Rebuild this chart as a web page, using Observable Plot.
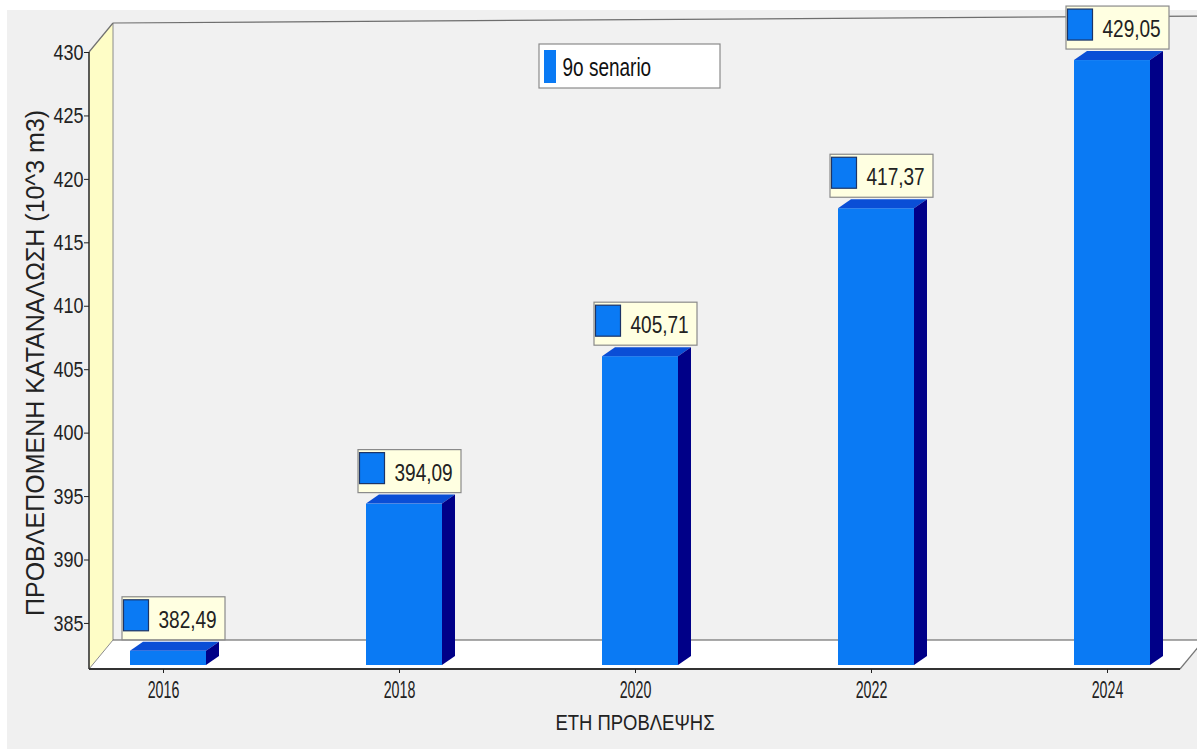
<!DOCTYPE html>
<html>
<head>
<meta charset="utf-8">
<script src="https://cdn.jsdelivr.net/npm/d3@7"></script>
<script src="https://cdn.jsdelivr.net/npm/@observablehq/plot@0.6"></script>
<style>
  body { margin: 0; background: #ffffff; }
  #chart { width: 1197px; height: 749px; }
</style>
</head>
<body>
<div id="chart"></div>
<script>
// ---- data ----
const years = ["2016", "2018", "2020", "2022", "2024"];
const values = [382.49, 394.09, 405.71, 417.37, 429.05];
const yTicks = [385, 390, 395, 400, 405, 410, 415, 420, 425, 430];
const yDomain = [381.37, 430];
const seriesName = "9o senario";
const yTitle = "ΠΡΟΒΛΕΠΟΜΕΝΗ ΚΑΤΑΝΑΛΩΣΗ (10^3 m3)";
const xTitle = "ΕΤΗ ΠΡΟΒΛΕΨΗΣ";

const data = years.map((year, i) => ({year, value: values[i]}));
const fmt = v => v.toFixed(2).replace(".", ",");

const SANS = '"Liberation Sans", Arial, sans-serif';
const FRONT = "#0a7af4", TOP = "#0a4ed6", SIDE = "#000088";
const BAR_DX = 5, BAR_DY = -4;      // bar sits in the middle of the depth
const DEPTH_X = 13, DEPTH_Y = -9;   // bar 3D depth
const WALL_X = 24, WALL_Y = -29;    // chart 3D depth

const svg = Plot.plot({
  width: 1197,
  height: 749,
  marginLeft: 89,
  marginRight: 17,
  marginTop: 52,
  marginBottom: 80,
  style: {background: "transparent", fontFamily: SANS, color: "#222"},
  x: {type: "band", domain: years, paddingInner: 0.68, paddingOuter: 0.15, label: null},
  y: {domain: yDomain, label: null},
  marks: [
    Plot.axisY({ticks: yTicks, tickSize: 5, tickPadding: 1, fontSize: 22.5, fontFamily: SANS, tickFormat: d => String(d), label: null}),
    Plot.axisX({tickSize: 4, tickPadding: 8, fontSize: 23, fontFamily: SANS, label: null}),
    Plot.barY(data, {x: "year", y1: yDomain[0], y2: "value", fill: FRONT, dx: BAR_DX, dy: BAR_DY}),
    Plot.text(data, {x: "year", y: "value", text: d => fmt(d.value), textAnchor: "start", lineAnchor: "middle",
      dx: -5, dy: -35, fontSize: 23.5, fontFamily: SANS, fill: "#222"}),
    Plot.text([seriesName], {frameAnchor: "top-left", dx: 562 - 89, dy: 15, textAnchor: "start", lineAnchor: "middle",
      fontSize: 25, fontFamily: SANS, fill: "#111"}),
    Plot.text([yTitle], {frameAnchor: "left", rotate: -90, dx: -46, dy: 2, textAnchor: "middle", lineAnchor: "bottom",
      fontSize: 25, fontFamily: SANS, fill: "#222"}),
    Plot.text([xTitle], {frameAnchor: "bottom", dy: 53, textAnchor: "middle", lineAnchor: "middle",
      fontSize: 22, fontFamily: SANS, fill: "#222"})
  ]
});

// ---- narrow the glyphs horizontally around each text anchor (the reference uses a condensed face) ----
function squeeze(el, k) {
  const t = el.getAttribute("transform") || "";
  el.setAttribute("transform", `${t} scale(${k},1)`);
}
svg.querySelectorAll('g[aria-label="y-axis tick label"] text').forEach(el => squeeze(el, 0.8));
svg.querySelectorAll('g[aria-label="x-axis tick label"] text').forEach(el => squeeze(el, 0.62));
const textGroups = svg.querySelectorAll('g[aria-label="text"]');
const labelG = textGroups[0], legG = textGroups[1], xTitleG = textGroups[3];
labelG.querySelectorAll("text").forEach(el => squeeze(el, 0.81));
legG.querySelectorAll("text").forEach(el => squeeze(el, 0.76));
xTitleG.querySelectorAll("text").forEach(el => squeeze(el, 0.84));

// ---- 3D decoration derived from the plot's scales ----
const ys = svg.scale("y");
const xs = svg.scale("x");
const L = 89;
const R = xs.range[1];
const T = ys.apply(yDomain[1]);
const B = ys.apply(yDomain[0]);
const W = 1197;

const bg = d3.create("svg:g").attr("aria-label", "walls");
bg.append("rect").attr("x", 7).attr("y", 10).attr("width", W - 7).attr("height", 749 - 10).attr("fill", "#f0f0f0");
const pts = a => a.map(p => p.join(",")).join(" ");
// back wall
bg.append("polygon").attr("points", pts([[L + WALL_X, T + WALL_Y], [W + 5, T + WALL_Y - 7], [W + 5, B + WALL_Y], [L + WALL_X, B + WALL_Y]]))
  .attr("fill", "#f1f1f1");
// left wall
bg.append("polygon").attr("points", pts([[L, T], [L + WALL_X, T + WALL_Y], [L + WALL_X, B + WALL_Y], [L, B]]))
  .attr("fill", "#fefdc6");
// floor
bg.append("polygon").attr("points", pts([[L, B], [L + WALL_X, B + WALL_Y], [R + WALL_X, B + WALL_Y], [R, B]]))
  .attr("fill", "#ffffff");
const line = (x1, y1, x2, y2, c, w) => bg.append("line").attr("x1", x1).attr("y1", y1).attr("x2", x2).attr("y2", y2)
  .attr("stroke", c).attr("stroke-width", w || 1);
line(L + WALL_X, T + WALL_Y, W + 5, T + WALL_Y - 7, "#6e6e6e", 1.2);
line(L + WALL_X, T + WALL_Y, L + WALL_X, B + WALL_Y, "#8c8c8c", 1);
line(L, T, L + WALL_X, T + WALL_Y, "#707070", 1.2);
line(L, B, L + WALL_X, B + WALL_Y, "#8c8c8c", 1);
line(L + WALL_X, B + WALL_Y, R + WALL_X, B + WALL_Y, "#555", 1);
line(R, B, R + WALL_X, B + WALL_Y, "#777", 1.2);
line(L, B, R, B, "#333", 1.8);
line(L, T, L, B, "#333", 1.6);
svg.insertBefore(bg.node(), svg.querySelector("g"));

// bar top & side faces
const barG = svg.querySelector('g[aria-label="bar"]');
const bars = [];
barG.querySelectorAll("rect").forEach(r => {
  const x1 = +r.getAttribute("x"), yt = +r.getAttribute("y");
  const x2 = x1 + +r.getAttribute("width"), yb = yt + +r.getAttribute("height");
  bars.push({x1, x2, yt, yb});
  const g = d3.select(barG);
  g.append("polygon").attr("points", pts([[x1, yt], [x1 + DEPTH_X, yt + DEPTH_Y], [x2 + DEPTH_X, yt + DEPTH_Y], [x2, yt]])).attr("fill", TOP);
  g.append("polygon").attr("points", pts([[x2, yt], [x2 + DEPTH_X, yt + DEPTH_Y], [x2 + DEPTH_X, yb + DEPTH_Y], [x2, yb]])).attr("fill", SIDE);
});

// value label boxes (behind the value texts)
const boxes = d3.create("svg:g").attr("aria-label", "value-boxes");
bars.forEach(b => {
  const left = b.x1 + BAR_DX - 8;
  const top = b.yt + BAR_DY + DEPTH_Y - 2 - 43;
  boxes.append("rect").attr("x", left).attr("y", top).attr("width", 103).attr("height", 43)
    .attr("fill", "#ffffe1").attr("stroke", "#8a8a8a").attr("stroke-width", 1.2);
  boxes.append("rect").attr("x", left + 1.5).attr("y", top + 3).attr("width", 25).attr("height", 31)
    .attr("fill", FRONT).attr("stroke", "#1d3466").attr("stroke-width", 1.2);
});
svg.insertBefore(boxes.node(), labelG);

// legend box (behind the legend text)
const leg = d3.create("svg:g").attr("aria-label", "legend-box");
leg.append("rect").attr("x", 539).attr("y", 44).attr("width", 181).attr("height", 44)
  .attr("fill", "#ffffff").attr("stroke", "#8a8a8a").attr("stroke-width", 1.2);
leg.append("rect").attr("x", 544).attr("y", 50).attr("width", 12).attr("height", 33).attr("fill", FRONT);
svg.insertBefore(leg.node(), legG);

document.getElementById("chart").appendChild(svg);
</script>
</body>
</html>
